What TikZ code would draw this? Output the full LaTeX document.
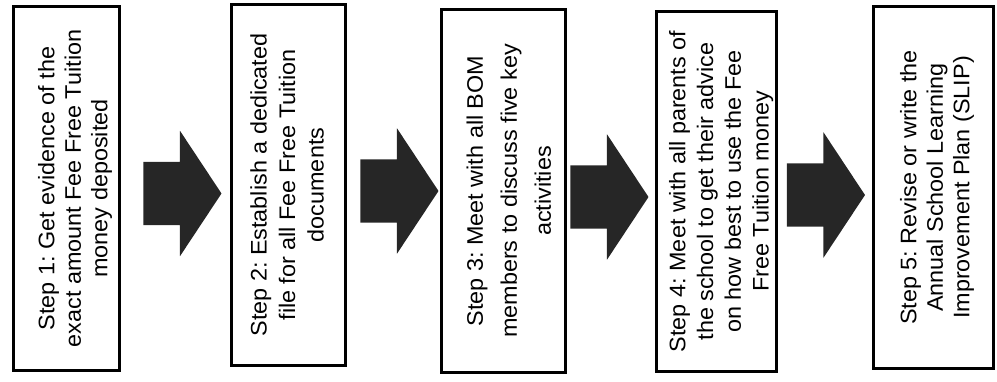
\documentclass[tikz,border=0pt]{standalone}
\usepackage{graphicx}
\usepackage{fontspec}
\setmainfont{Liberation Sans}
\usetikzlibrary{shapes.arrows}

\tikzset{
  stepbox/.style={draw, line width=3pt, inner sep=0pt, align=center},
  blockarrow/.style={single arrow, draw=none, fill=black!85,
    inner xsep=0pt, inner ysep=31.5pt, minimum height=78pt,
    single arrow head extend=31pt, single arrow tip angle=113},
}
% rotated text of one step: #1 push to the right, #2 line spacing, #3 lines
\newcommand{\steptext}[3]{\hspace*{#1pt}\rotatebox{90}{\scalebox{1.04}[1]{\fontsize{22.5}{#2}\selectfont\frenchspacing
  \begin{tabular}{@{}c@{}}#3\end{tabular}}}}

\begin{document}
\begin{tikzpicture}[x=1pt, y=1pt]
 \useasboundingbox (0,0) rectangle (997,381);

 %steps
 \foreach \i/\xc/\yc/\w/\h/\dx/\ls/\txt in {
   1/66.5/192.5/106/364/18/26.5/{Step 1: Get evidence of the\\exact amount Fee Free Tuition\\money deposited},
   2/288.5/196/114/361/2/28.5/{Step 2: Establish a dedicated\\file for all Fee Free Tuition\\documents},
   3/503.5/190/124/363/13/34/{Step 3: Meet with all BOM\\members to discuss five key\\activities},
   4/716.5/189.5/120/360/10/27.7/{Step 4: Meet with all parents of\\the school to get their advice\\on how best to use the Fee\\Free Tuition money},
   5/933.5/193.5/120/362/8/26.5/{Step 5: Revise or write the\\Annual School Learning\\Improvement Plan (SLIP)}} {
     \node[stepbox, minimum width=\w, minimum height=\h] (step\i) at (\xc,\yc) {\steptext{\dx}{\ls}{\txt}};
 }

 %arrows between the steps
 \foreach \i/\xc/\yc in {1/172/187.5, 2/389/190, 3/599/184, 4/815.5/186} {
     \node[blockarrow] (arrow\i) at (\xc,\yc) {};
 }

\end{tikzpicture}
\end{document}
